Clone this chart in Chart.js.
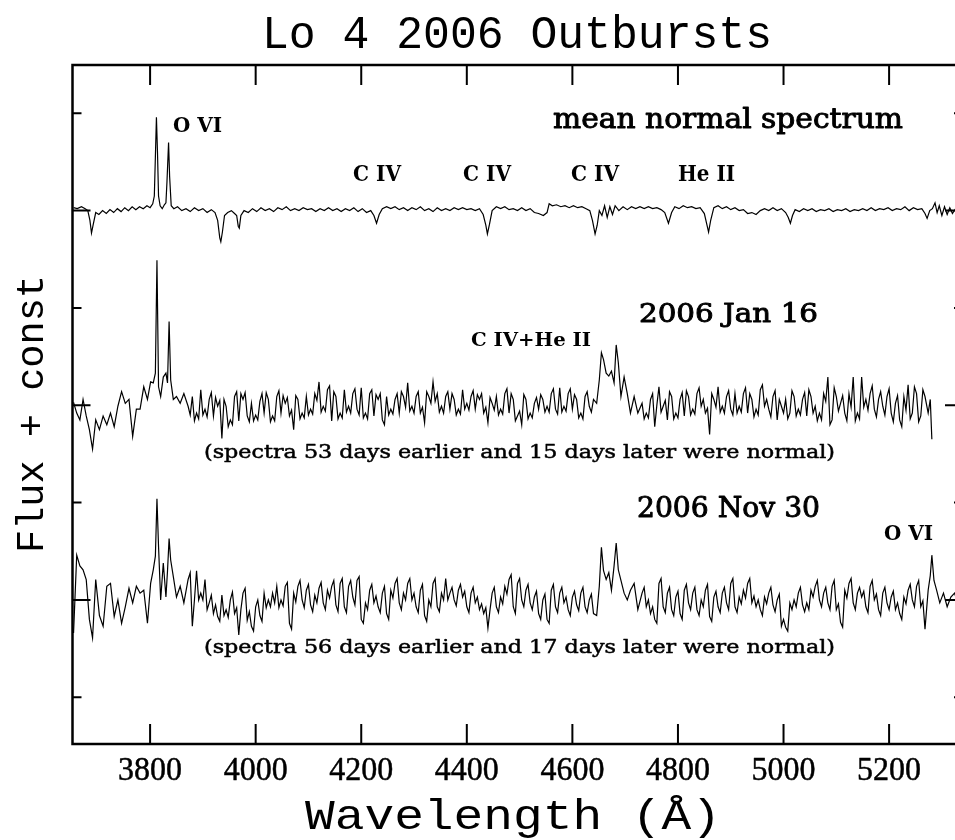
<!DOCTYPE html>
<html><head><meta charset="utf-8">
<script src="https://cdn.jsdelivr.net/npm/chart.js@4/dist/chart.umd.min.js"></script>
<style>html,body{margin:0;padding:0;overflow:hidden;background:#fff}#wrap{width:975px;height:840px;position:relative}canvas{display:block}</style>
</head><body><div id="wrap"><canvas id="c" width="975" height="840" style="width:975px;height:840px"></canvas></div>
<script>
// ---- tick values ----
const xTicks = [3800, 4000, 4200, 4400, 4600, 4800, 5000, 5200];
const yTicksLong = [1, 3, 5];
const yTicksShort = [0, 2, 4, 6];

// ---- mean normal spectrum (offset +5) ----
const waveTop = [3655,3662,3670,3677,3682,3686,3689,3692,3697,3703,3710,3717,3724,3731,3738,3745,3752,3759,3766,3773,3780,3787,3794,3800,3805,3808,3810,3812,3814,3816,3819,3823,3827,3830,3832,3835,3837,3840,3845,3852,3860,3868,3876,3884,3892,3900,3908,3916,3923,3928,3932,3934,3937,3941,3947,3954,3960,3964,3967,3969,3972,3978,3986,3994,4002,4010,4018,4026,4034,4042,4050,4058,4066,4074,4082,4090,4098,4106,4114,4122,4130,4138,4146,4154,4162,4170,4178,4186,4194,4202,4210,4218,4224,4229,4234,4240,4248,4256,4264,4272,4280,4288,4296,4304,4312,4320,4328,4336,4344,4352,4360,4368,4376,4384,4392,4400,4408,4416,4424,4431,4436,4439,4443,4448,4456,4464,4472,4480,4488,4496,4504,4512,4520,4528,4536,4545,4552,4556,4562,4570,4578,4586,4594,4602,4610,4618,4626,4633,4638,4643,4647,4651,4656,4661,4666,4671,4676,4681,4688,4696,4704,4712,4720,4728,4736,4744,4752,4760,4768,4775,4782,4788,4794,4802,4810,4818,4826,4834,4842,4850,4855,4858,4862,4868,4876,4884,4892,4900,4908,4916,4924,4932,4940,4948,4956,4964,4972,4980,4988,4996,5004,5009,5013,5017,5022,5030,5038,5046,5054,5062,5070,5078,5086,5094,5102,5110,5118,5126,5134,5142,5150,5158,5166,5174,5182,5190,5198,5206,5214,5222,5230,5238,5246,5254,5262,5268,5272,5277,5282,5287,5291,5295,5300,5305,5310,5315,5320,5326,5333,5338];
const fluxTop = [5.03,5.02,5.04,5.02,5.0,4.9,4.77,4.85,4.98,4.96,5.0,4.97,5.01,4.98,5.02,4.99,5.03,5.0,5.04,5.01,5.04,5.02,5.05,5.03,5.07,5.15,5.55,5.96,5.6,5.15,5.05,5.02,5.06,5.08,5.3,5.70,5.35,5.05,5.02,5.04,5.0,5.02,4.99,5.03,5.0,5.02,4.98,5.01,4.98,4.9,4.72,4.68,4.78,4.95,4.98,5.0,4.97,4.95,4.84,4.82,4.95,5.0,4.98,5.02,4.99,5.03,5.0,5.02,4.99,5.03,5.01,5.04,5.0,5.02,5.0,5.03,5.01,5.02,4.99,5.02,5.0,5.03,5.0,5.02,4.99,5.02,5.0,5.03,4.99,5.02,4.98,5.0,4.95,4.87,4.96,5.02,5.04,5.02,5.04,5.01,5.03,5.0,5.03,5.01,5.04,5.0,5.02,4.99,5.03,5.0,5.02,5.0,5.03,5.01,5.03,5.01,5.02,5.0,5.02,4.96,4.85,4.76,4.86,5.0,5.04,5.02,5.04,5.01,5.02,5.0,5.03,5.0,5.02,4.98,4.97,4.95,4.98,5.07,5.05,5.06,5.04,5.05,5.03,5.05,5.03,5.04,5.02,5.0,4.9,4.76,4.85,5.0,4.95,5.05,4.93,5.04,4.96,5.05,5.0,5.04,5.01,5.04,5.02,5.04,5.02,5.04,5.02,5.03,5.01,4.98,4.87,4.98,5.04,5.02,5.05,5.03,5.04,5.02,5.03,4.97,4.85,4.78,4.9,5.03,5.05,5.02,5.04,5.01,5.03,5.0,5.01,4.97,4.98,4.96,5.0,5.02,5.0,5.03,5.0,5.02,4.98,4.93,4.87,4.95,5.01,4.99,5.02,5.0,5.02,4.99,5.01,5.0,5.02,4.99,5.01,5.0,5.02,4.99,5.01,5.0,5.02,5.0,5.03,5.0,5.02,5.01,5.03,5.0,5.02,5.01,5.04,5.0,5.03,5.01,5.02,4.97,4.92,5.0,5.02,5.08,4.98,5.05,4.95,5.04,4.96,5.03,4.97,5.02,4.98,5.01];

// ---- outburst spectra: main wavelength grid ----
const waveOut = [3655,3661,3667,3673,3679,3685,3691,3697,3704,3711,3718,3725,3732,3739,3746,3753,3760,3767,3774,3781,3788,3795,3801,3806,3810,3813,3816,3820,3825,3830,3833,3836,3839,3844,3850,3857,3864,
3872,3880,3888,3896,3904,3912,3920,3928,3936,3944,3952,3960,3968,3976,3984,3992,4000,4008,4016,4024,4032,4040,4048,4056,4064,4072,4080,4088,4096,4104,4112,4120,4128,4136,4144,4152,4160,4168,4176,4184,4192,4200,
4208,4216,4224,4232,4240,4248,4256,4264,4272,4280,4288,4296,4304,4312,4320,4328,4336,4344,4352,4360,4368,4376,4384,4392,4400,4408,4416,4424,4432,4440,4448,4456,4464,4472,4480,4488,4496,4504,4512,4520,4528,4536,4544,4552,4560,4568,4576,4584,4592,4600,4608,4616,4624,4632,4640,
4646,4651,4655,4659,4664,4669,4674,4679,4683,4687,4692,4698,4704,4710,4717,4724,
4732,4740,4748,4756,4764,4772,4780,4788,4796,4804,4812,4820,4828,4836,4844,4852,4860,4868,4876,4884,4892,4900,4908,4916,4924,4932,4940,4948,4956,4964,4972,4980,4988,4996,5004,5012,5020,5028,5036,5044,5052,5060,5068,5076,5084,5092,5100,5108,5116,5124,5132,5140,5148,5156,5164,5172,5180,5188,5196,5204,5212,5220,5228,5236,5244,5252,5260,5268,
5274,5278,5281,5285,5290,5296,5303,5310,5317,5324,5331,5338];
// in-between samples (finer noise)
const waveMidB = [3876,3884,3892,3900,3908,3916,3924,3932,3940,3948,3956,3964,3972,3980,3988,3996,4004,4012,4020,4028,4036,4044,4052,4060,4068,4076,4084,4092,4100,4108,4116,4124,4132,4140,4148,4156,4164,4172,4180,4188,4196,4204,4212,4220,4228,4236,4244,4252,4260,4268,4276,4284,4292,4300,4308,4316,4324,4332,4340,4348,4356,4364,4372,4380,4388,4396,4404,4412,4420,4428,4436,4444,4452,4460,4468,4476,4484,4492,4500,4508,4516,4524,4532,4540,4548,4556,4564,4572,4580,4588,4596,4604,4612,4620,4628,4636];
const waveMidD = [4736,4744,4752,4760,4768,4776,4784,4792,4800,4808,4816,4824,4832,4840,4848,4856,4864,4872,4880,4888,4896,4904,4912,4920,4928,4936,4944,4952,4960,4968,4976,4984,4992,5000,5008,5016,5024,5032,5040,5048,5056,5064,5072,5080,5088,5096,5104,5112,5120,5128,5136,5144,5152,5160,5168,5176,5184,5192,5200,5208,5216,5224,5232,5240,5248,5256,5264];

// ---- 2006 Jan 16 (offset +3) ----
const fluxJan16 = [3.03,2.92,2.85,3.06,2.89,2.75,2.55,2.85,2.75,2.89,2.80,2.92,2.78,2.99,3.14,3.02,3.06,2.68,2.96,2.96,3.19,3.06,3.24,3.23,3.33,4.49,3.19,3.09,3.29,3.33,3.23,3.86,3.26,3.06,3.09,3.02,3.12,
2.99,3.09,2.92,3.16,2.96,3.06,2.89,2.99,2.66,2.99,2.85,3.09,2.84,3.06,2.89,3.02,2.90,3.04,2.92,3.06,2.89,3.09,2.92,3.02,2.89,2.75,3.06,2.92,3.09,2.96,3.12,3.24,2.99,3.16,2.84,3.09,2.92,3.16,2.99,3.12,2.96,3.18,
2.92,3.12,2.89,3.06,2.85,3.09,2.96,3.06,2.92,3.09,3.23,2.99,3.09,2.92,2.82,3.09,3.24,3.12,2.99,3.09,2.96,3.06,2.96,3.16,3.02,3.09,2.96,3.06,2.92,2.82,3.02,3.09,2.96,3.12,2.92,3.06,2.89,2.80,3.06,2.92,3.02,2.96,3.06,2.99,3.12,2.96,3.18,2.99,3.12,2.96,3.06,2.92,3.09,2.99,3.06,
3.02,3.26,3.54,3.47,3.33,3.30,3.35,3.23,3.62,3.44,3.09,3.29,3.12,2.92,3.09,2.92,
3.02,2.92,3.06,2.78,3.19,2.99,2.85,3.09,2.92,3.06,2.89,3.09,2.96,3.12,2.99,2.92,2.70,3.06,3.19,2.99,3.09,2.96,3.12,2.99,3.12,2.92,3.06,2.96,3.16,2.99,2.96,3.09,2.85,2.99,3.06,2.92,3.09,2.96,3.06,2.89,3.09,2.99,2.92,3.12,3.29,2.85,3.09,3.02,2.92,3.12,3.29,2.92,3.29,3.06,3.12,2.96,3.06,2.99,3.09,2.92,3.02,2.85,3.09,3.21,2.92,3.12,2.89,3.09,
2.92,3.06,2.65,null,null,null,null,null,null,null,null,null];
const jan16MidB = [2.90,2.84,2.86,2.90,2.88,3.13,3.08,3.05,3.06,2.78,2.80,3.14,3.12,3.13,2.83,2.84,2.85,3.12,3.13,2.83,2.84,3.15,3.10,3.08,2.95,3.10,2.86,2.87,2.90,2.91,3.05,2.93,2.94,3.20,3.14,2.86,2.87,2.93,2.92,3.17,2.90,2.87,2.86,3.16,3.11,3.12,2.80,2.90,2.91,3.12,3.14,2.98,2.94,2.92,3.14,2.98,3.14,3.02,3.04,2.93,2.92,3.14,3.12,2.90,2.91,2.96,2.95,3.15,3.11,3.12,2.98,3.08,2.95,2.90,2.91,3.17,3.12,2.84,2.94,3.11,2.86,2.87,3.08,3.11,2.93,2.93,3.17,2.91,2.93,2.94,3.17,3.11,2.87,2.86,3.14,2.93];
const jan16MidD = [2.86,2.87,3.12,3.00,2.93,3.05,3.14,2.86,2.87,3.13,3.15,2.90,2.91,3.18,3.06,2.97,3.12,2.98,2.93,2.92,3.15,2.90,2.92,2.93,3.18,3.12,2.88,2.90,3.21,3.06,2.88,3.15,3.06,2.92,2.86,3.15,2.89,2.90,3.13,3.16,2.92,2.84,2.85,3.04,2.80,3.18,2.94,3.10,2.84,2.98,2.84,2.86,2.98,2.95,3.20,2.88,3.14,2.90,3.17,2.83,3.10,2.78,2.95,2.86,3.19,2.83,3.16];

// ---- 2006 Nov 30 (offset +1) ----
const fluxNov30 = [0.66,1.46,1.35,1.31,1.21,0.80,0.61,1.21,0.84,0.73,1.14,1.17,0.83,1.0,0.76,0.93,1.12,0.97,1.14,1.07,1.10,0.76,1.17,1.31,1.45,2.04,1.55,1.0,1.38,1.03,1.3,1.63,1.41,1.24,1.03,1.14,0.97,
1.21,0.73,1.30,1.07,1.21,0.97,0.86,0.83,1.05,0.90,1.0,0.86,0.64,1.07,0.79,0.73,0.93,0.84,1.07,1.0,1.07,1.14,1.0,1.14,0.76,1.07,1.14,1.0,1.10,0.95,1.05,1.12,0.97,1.10,1.14,0.95,1.17,0.93,1.14,1.03,1.20,0.80,
0.97,1.10,0.97,0.93,1.07,0.86,1.10,1.17,0.97,1.07,1.17,1.0,0.93,1.10,0.84,1.0,1.17,0.93,1.07,1.22,1.07,1.0,1.10,1.03,0.93,1.07,0.97,0.90,0.86,0.71,1.07,0.93,1.03,1.14,1.21,0.93,1.17,1.0,1.10,0.97,1.03,0.86,1.0,0.80,1.10,0.93,1.07,0.97,0.90,1.03,0.95,1.07,0.93,1.0,0.86,
0.84,1.14,1.54,1.30,1.21,1.28,1.10,1.35,1.585,1.31,1.20,1.07,1.0,1.10,1.17,0.90,
1.07,0.93,0.86,0.80,1.17,0.93,1.07,0.90,1.03,0.86,1.10,0.97,1.07,0.90,1.0,1.10,0.83,1.03,0.93,1.07,0.97,1.17,0.93,1.03,1.10,1.17,0.97,0.93,0.90,1.03,1.07,0.95,1.0,0.73,0.72,0.97,1.0,1.07,0.95,0.97,1.10,1.14,1.0,1.07,0.97,1.14,0.90,0.77,1.10,1.17,0.97,1.07,1.03,0.93,1.14,1.0,0.90,1.07,0.97,1.03,0.90,0.86,1.03,1.10,1.0,1.14,0.93,0.70,
1.10,1.25,1.46,1.20,1.10,0.97,1.07,0.93,1.03,1.07,0.95,1.0];
const nov30MidB = [1.28,1.00,1.00,1.00,0.90,1.05,0.95,0.78,0.84,0.82,1.08,0.92,0.90,1.12,0.88,0.68,1.0,0.78,0.92,0.93,0.97,0.92,0.94,1.18,0.70,0.98,1.20,0.92,1.16,0.88,0.97,1.18,0.90,1.02,1.20,0.88,1.22,0.87,1.20,0.95,1.24,0.76,0.90,1.16,1.04,0.87,1.14,0.80,1.02,1.22,0.90,1.0,1.22,1.07,0.87,1.16,0.78,0.93,1.22,0.88,1.0,1.0,1.13,0.94,1.16,1.09,0.87,1.13,1.03,0.96,0.92,0.90,1.13,0.87,0.96,1.06,1.26,0.86,1.22,0.93,1.16,0.90,1.09,0.80,1.06,0.76,1.16,0.87,1.13,1.03,0.84,1.09,0.89,1.13,0.87,1.06];
const nov30MidD = [1.13,1.0,0.93,0.76,1.22,0.87,1.13,0.84,1.09,0.80,1.16,0.90,1.13,0.84,0.93,1.16,0.78,1.09,0.87,1.13,0.90,1.22,0.87,0.96,1.02,1.22,1.04,1.0,0.84,0.96,1.13,0.88,1.06,0.80,0.68,0.90,0.93,1.13,0.88,0.90,1.03,1.20,0.93,1.13,0.90,1.20,0.96,0.72,1.02,1.22,0.90,1.13,1.09,0.87,1.20,1.06,0.84,1.13,0.90,1.09,0.97,0.80,0.96,1.16,0.93,1.20,0.99];

function pts(w, f) {
  const n = Math.min(w.length, f.length);
  const out = [];
  for (let i = 0; i < n; i++) out.push({x: w[i], y: f[i]});
  return out;
}
function merged() {
  let all = [];
  for (let i = 0; i < arguments.length; i += 2) all = all.concat(pts(arguments[i], arguments[i + 1]));
  all.sort((p, q) => p.x - q.x);
  // drop samples that fall after the end of a truncated spectrum
  let lastValid = -1;
  all.forEach((p, i) => { if (p.y !== null) lastValid = i; });
  return all;
}

function drawFit(ctx, s, x, y, font, w, align, strokeW) {
  ctx.save();
  ctx.font = font;
  const m = ctx.measureText(s).width;
  const sx = w / m;
  let left = x;
  if (align === 'center') left = x - w / 2;
  ctx.translate(left, y);
  ctx.scale(sx, 1);
  ctx.textAlign = 'left';
  ctx.textBaseline = 'alphabetic';
  ctx.fillStyle = '#000';
  ctx.fillText(s, 0, 0);
  if (strokeW) { ctx.strokeStyle = '#000'; ctx.lineWidth = strokeW; ctx.lineJoin = 'round'; ctx.strokeText(s, 0, 0); }
  ctx.restore();
}

const framePlugin = {
  id: 'frame',
  afterDraw(chart) {
    const ctx = chart.ctx;
    const a = chart.chartArea;
    const xs = chart.scales.x, ys = chart.scales.y;
    ctx.save();
    ctx.strokeStyle = '#000';
    ctx.lineWidth = 2.5;
    ctx.strokeRect(a.left, a.top, a.right - a.left, a.bottom - a.top);
    ctx.lineWidth = 2;
    ctx.beginPath();
    xTicks.forEach(v => {
      const p = xs.getPixelForValue(v);
      ctx.moveTo(p, a.top); ctx.lineTo(p, a.top + 20);
      ctx.moveTo(p, a.bottom); ctx.lineTo(p, a.bottom - 20);
    });
    yTicksLong.forEach(v => {
      const p = ys.getPixelForValue(v);
      ctx.moveTo(a.left, p); ctx.lineTo(a.left + 18, p);
      ctx.moveTo(a.right, p); ctx.lineTo(a.right - 18, p);
    });
    yTicksShort.forEach(v => {
      const p = ys.getPixelForValue(v);
      ctx.moveTo(a.left, p); ctx.lineTo(a.left + 9, p);
      ctx.moveTo(a.right, p); ctx.lineTo(a.right - 9, p);
    });
    ctx.stroke();

    // tick labels
    xTicks.forEach(v => {
      const p = xs.getPixelForValue(v);
      drawFit(ctx, String(v), p, 780, '34px "Liberation Serif"', 64, 'center', 0.5);
    });
    // titles
    drawFit(ctx, 'Lo 4 2006 Outbursts', 262, 48, '46px "Liberation Mono"', 510, 'left');
    drawFit(ctx, 'Wavelength (\u00C5)', 305, 829, '42px "Liberation Mono"', 416, 'left');
    ctx.save();
    ctx.translate(43, 553);
    ctx.rotate(-Math.PI / 2);
    drawFit(ctx, 'Flux + const', 0, 0, '38px "Liberation Mono"', 278, 'left');
    ctx.restore();

    // annotations
    const B = 'bold 21px "DejaVu Serif"', B2 = 'bold 22px "DejaVu Serif"';
    drawFit(ctx, 'O VI', 173, 131.7, B, 49, 'left');
    drawFit(ctx, 'mean normal spectrum', 553, 128.3, '27px "DejaVu Serif"', 350, 'left', 0.9);
    drawFit(ctx, 'C IV', 353, 180.7, B2, 48, 'left');
    drawFit(ctx, 'C IV', 463, 180.7, B2, 48, 'left');
    drawFit(ctx, 'C IV', 571, 180.7, B2, 48, 'left');
    drawFit(ctx, 'He II', 678, 180.7, B2, 57, 'left');
    drawFit(ctx, '2006 Jan 16', 639, 322, '26px "DejaVu Serif"', 179, 'left', 0.9);
    drawFit(ctx, 'C IV+He II', 471, 346, 'bold 19px "DejaVu Serif"', 120, 'left');
    drawFit(ctx, '(spectra 53 days earlier and 15 days later were normal)', 204, 458, '19px "DejaVu Serif"', 631, 'left', 0.5);
    drawFit(ctx, '2006 Nov 30', 637, 517, '27px "DejaVu Serif"', 183, 'left', 0.9);
    drawFit(ctx, 'O VI', 884, 540, B, 49, 'left');
    drawFit(ctx, '(spectra 56 days earlier and 17 days later were normal)', 204, 653, '19px "DejaVu Serif"', 631, 'left', 0.5);
    ctx.restore();
  }
};

const lineStyle = {borderColor: '#000', borderWidth: 1.2, pointRadius: 0, tension: 0, fill: false, spanGaps: false};

new Chart(document.getElementById('c').getContext('2d'), {
  type: 'line',
  data: {
    datasets: [
      Object.assign({label: 'mean normal spectrum', data: pts(waveTop, fluxTop)}, lineStyle),
      Object.assign({label: '2006 Jan 16', data: merged(waveOut, fluxJan16, waveMidB, jan16MidB, waveMidD, jan16MidD)}, lineStyle),
      Object.assign({label: '2006 Nov 30', data: merged(waveOut, fluxNov30, waveMidB, nov30MidB, waveMidD, nov30MidD)}, lineStyle)
    ]
  },
  options: {
    responsive: false,
    animation: false,
    events: [],
    layout: {padding: {left: 72.5, right: 12, top: 65, bottom: 96}},
    plugins: {legend: {display: false}, tooltip: {enabled: false}, title: {display: false}},
    scales: {
      x: {type: 'linear', min: 3653, max: 5340, display: false},
      y: {type: 'linear', min: -0.48, max: 6.496, display: false}
    }
  },
  plugins: [framePlugin]
});
</script>
</body></html>
